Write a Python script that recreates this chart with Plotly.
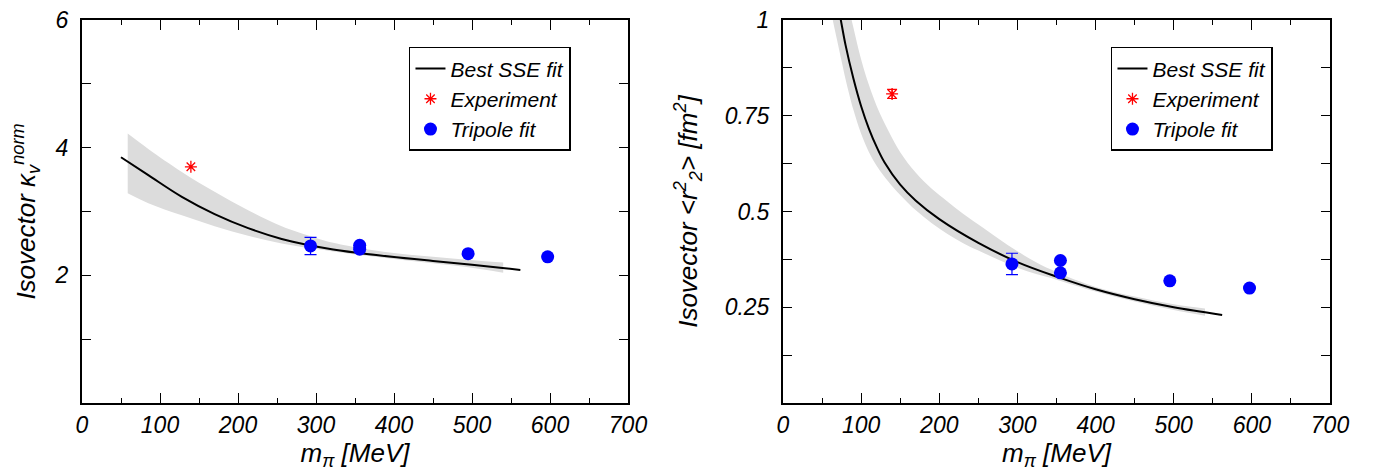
import plotly.graph_objects as go

# ---------------- Data: left panel (kappa_v^norm) ----------------
kap_curve_m = [50, 85, 128, 170, 213, 256, 290, 322, 365, 450, 500, 536, 562]
kap_curve_v = [3.85, 3.57, 3.23, 2.96, 2.74, 2.57, 2.475, 2.405, 2.335, 2.225, 2.165, 2.12, 2.085]

kap_band_m = [58.6, 85, 128, 170, 213, 256, 299, 322, 365, 408, 450, 493, 540]
kap_band_hi = [4.22, 3.98, 3.62, 3.31, 3.02, 2.77, 2.59, 2.51, 2.41, 2.34, 2.29, 2.245, 2.20]
kap_band_lo = [3.285, 3.13, 2.94, 2.77, 2.62, 2.50, 2.415, 2.375, 2.305, 2.245, 2.19, 2.13, 2.04]

kap_exp_m = [139.6]
kap_exp_v = [3.70]

kap_tri_m = [293, 356, 356, 495, 597]
kap_tri_v = [2.46, 2.47, 2.41, 2.34, 2.29]
kap_tri_err = [0.135, 0, 0, 0, 0]

# ---------------- Data: right panel (<r_2^2>) ----------------
r2_curve_m = [70, 74, 80, 90, 100, 110, 120, 130, 150, 170, 200, 250, 300, 350, 400, 450, 500, 562]
r2_curve_v = [1.045, 1.0, 0.935, 0.848, 0.775, 0.716, 0.668, 0.628, 0.570, 0.528, 0.480, 0.418,
              0.368, 0.330, 0.297, 0.271, 0.250, 0.230]

r2_band_m = [60, 65, 70, 75, 80, 90, 100, 110, 120, 135, 150, 170, 190, 210, 230, 250, 275,
             300, 325, 350, 400, 450, 500, 540]
r2_band_hi = [1.33, 1.25, 1.18, 1.12, 1.07, 0.981, 0.897, 0.830, 0.775, 0.710, 0.655, 0.601,
              0.560, 0.527, 0.495, 0.466, 0.430, 0.396, 0.366, 0.342, 0.303, 0.278, 0.258, 0.247]
r2_band_lo = [1.04, 0.987, 0.940, 0.892, 0.846, 0.766, 0.703, 0.655, 0.619, 0.578, 0.543, 0.503,
              0.470, 0.442, 0.418, 0.398, 0.375, 0.353, 0.336, 0.322, 0.291, 0.265, 0.243, 0.228]

r2_exp_m = [139.6]
r2_exp_v = [0.807]
r2_exp_err = [0.012]

r2_tri_m = [293, 355, 355, 495, 597]
r2_tri_v = [0.363, 0.372, 0.340, 0.319, 0.300]
r2_tri_err = [0.028, 0, 0, 0, 0]

x_tickvals = [0, 100, 200, 300, 400, 500, 600, 700]
kap_tickvals = [0, 1, 2, 3, 4, 5, 6]
kap_ticktext = ["", "", "2", "", "4", "", "6"]
r2_tickvals = [0, 0.125, 0.25, 0.375, 0.5, 0.625, 0.75, 0.875, 1.0]
r2_ticktext = ["", "", "0.25", "", "0.5", "", "0.75", "", "1"]

BAND = "#dcdcdc"
FONT = "Liberation Sans"

fig = go.Figure()


def add_panel(xa, ya, legend, curve_m, curve_v, band_m, band_hi, band_lo,
              exp_m, exp_v, exp_err, tri_m, tri_v, tri_err):
    fig.add_trace(go.Scatter(x=band_m, y=band_lo, mode="lines", line=dict(width=0, shape="spline"),
                             showlegend=False, hoverinfo="skip", xaxis=xa, yaxis=ya))
    fig.add_trace(go.Scatter(x=band_m, y=band_hi, mode="lines", line=dict(width=0, shape="spline"),
                             fill="tonexty", fillcolor=BAND, showlegend=False, hoverinfo="skip",
                             xaxis=xa, yaxis=ya))
    fig.add_trace(go.Scatter(x=curve_m, y=curve_v, mode="lines", name="Best SSE fit",
                             line=dict(color="black", width=2, shape="spline"),
                             xaxis=xa, yaxis=ya, legend=legend))
    err = None
    if exp_err is not None:
        err = dict(type="data", array=exp_err, color="red", width=5, thickness=1.2)
    fig.add_trace(go.Scatter(x=exp_m, y=exp_v, mode="markers", name="Experiment",
                             marker=dict(symbol="asterisk-open", color="red", size=10,
                                         line=dict(color="red", width=1.3)),
                             error_y=err, xaxis=xa, yaxis=ya, legend=legend))
    fig.add_trace(go.Scatter(x=tri_m, y=tri_v, mode="markers", name="Tripole fit",
                             marker=dict(symbol="circle", color="#0000ff", size=13),
                             error_y=dict(type="data", array=tri_err, color="#0000ff",
                                          width=6, thickness=1.2),
                             xaxis=xa, yaxis=ya, legend=legend))


add_panel("x", "y", "legend", kap_curve_m, kap_curve_v, kap_band_m, kap_band_hi, kap_band_lo,
          kap_exp_m, kap_exp_v, None, kap_tri_m, kap_tri_v, kap_tri_err)
add_panel("x2", "y2", "legend2", r2_curve_m, r2_curve_v, r2_band_m, r2_band_hi, r2_band_lo,
          r2_exp_m, r2_exp_v, r2_exp_err, r2_tri_m, r2_tri_v, r2_tri_err)

xcommon = dict(range=[0, 700], tickvals=x_tickvals, ticks="inside", ticklen=10, tickwidth=1.2,
               tickcolor="black", showline=True, linecolor="black", linewidth=2, mirror="ticks",
               showgrid=False, zeroline=False, automargin=False, ticklabeloverflow="allow",
               minor=dict(dtick=50, tick0=0, ticks="inside", ticklen=5, tickwidth=1.2,
                          tickcolor="black", showgrid=False),
               title=dict(text="m<sub>π</sub> [MeV]", standoff=6),
               tickfont=dict(size=23))
ycommon = dict(ticks="inside", ticklen=9, tickwidth=1.2, tickcolor="black", showline=True,
               linecolor="black", linewidth=2, mirror="ticks", showgrid=False, zeroline=False,
               automargin=False, ticklabeloverflow="allow", tickfont=dict(size=23),
               ticklabelstandoff=7)

legcommon = dict(bgcolor="white", bordercolor="black", borderwidth=1.5,
                 font=dict(family=FONT, size=21, style="italic", color="black"),
                 xanchor="left", yanchor="top", tracegroupgap=0, itemwidth=30,
                 itemsizing="trace", traceorder="normal")

# The page body adds an 8px offset, so the margins are shifted to compensate.
fig.update_layout(
    template="none",
    width=1375, height=474,
    margin=dict(l=74, r=53, t=12, b=79, autoexpand=False),
    paper_bgcolor="white", plot_bgcolor="white",
    font=dict(family=FONT, size=22, style="italic", color="black"),
    xaxis=dict(domain=[0, 0.4375], anchor="y", **xcommon),
    xaxis2=dict(domain=[0.5617, 1], anchor="y2", **xcommon),
    yaxis=dict(domain=[0, 1], anchor="x", range=[0, 6], tickvals=kap_tickvals,
               ticktext=kap_ticktext,
               title=dict(text="Isovector κ<sub>v</sub><sup>norm</sup>", standoff=13), **ycommon),
    yaxis2=dict(domain=[0, 1], anchor="x2", range=[0, 1], tickvals=r2_tickvals,
                ticktext=r2_ticktext,
                title=dict(text="Isovector &lt;r<sup>2</sup><sub>2</sub>&gt; [fm<sup>2</sup>]",
                           standoff=20), **ycommon),
    legend=dict(x=0.262, y=0.93, **legcommon),
    legend2=dict(x=0.8245, y=0.93, **legcommon),
)

fig.write_html("out.html")
